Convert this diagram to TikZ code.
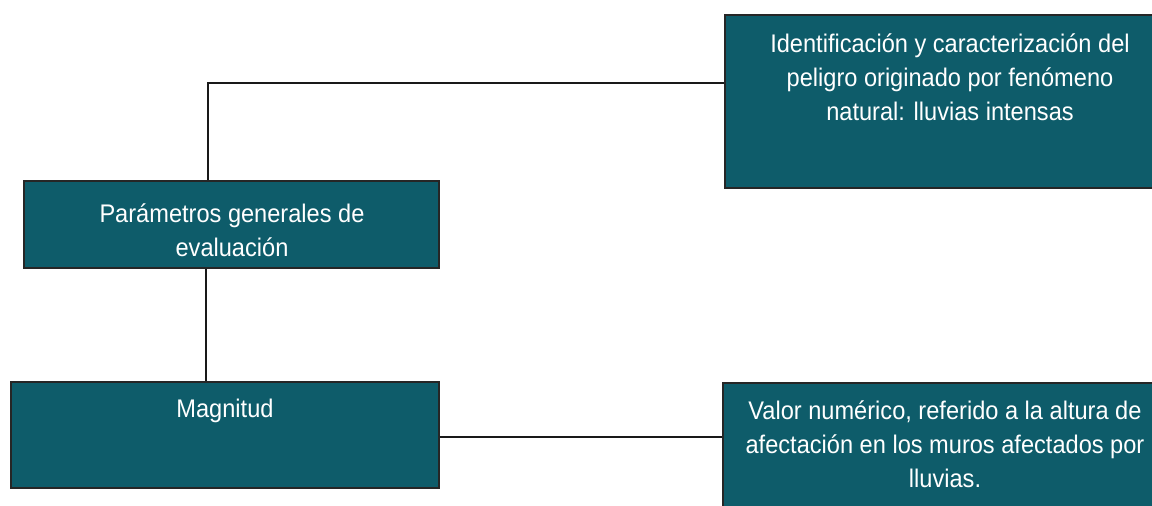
\documentclass[tikz,border=0pt]{standalone}
\usepackage{fontspec}
\setmainfont{Liberation Sans}
\newcommand{\tallt}[1]{\scalebox{1}[1.08]{#1}}
\begin{document}
\begin{tikzpicture}[x=1pt,y=-1pt,
  box/.style={draw=black!85, line width=1.3pt, fill=boxteal, inner sep=0pt, rectangle},
  txt/.style={text=white, anchor=base, inner sep=0pt, font=\fontsize{23.6}{34}\selectfont},
  conn/.style={draw=black!90, line width=1.3pt}]
\definecolor{boxteal}{RGB}{14,92,106}
\useasboundingbox (0,0) rectangle (1152,506);
\fill[white] (0,0) rectangle (1152,506);
% boxes
\node[box, minimum width=440pt, minimum height=173pt] (ident) at (945,101.5) {};
\node[box, minimum width=415pt, minimum height=87pt] (params) at (231.5,224.5) {};
\node[box, minimum width=428pt, minimum height=106pt] (magn) at (225,435) {};
\node[box, minimum width=440pt, minimum height=136pt] (valor) at (943,451) {};
% texts
\node[txt] (i1) at (950,52) {\tallt{Identificación y caracterización del}};
\node[txt] (i2) at (950,86) {\tallt{peligro originado por fenómeno}};
\node[txt] (i3) at (950,120) {\tallt{natural: lluvias intensas}};
\node[txt] (p1) at (232,222) {\tallt{Parámetros generales de}};
\node[txt] (p2) at (232,256) {\tallt{evaluación}};
\node[txt] (m1) at (225,417) {\tallt{Magnitud}};
\node[txt] (v1) at (945,419) {\tallt{Valor numérico, referido a la altura de}};
\node[txt] (v2) at (945,453) {\tallt{afectación en los muros afectados por}};
\node[txt] (v3) at (945,487) {\tallt{lluvias.}};
% connectors
\coordinate (c1) at (208,83);
\coordinate (c2) at (206,0);
\coordinate (c3) at (0,437);
\draw[conn] (c1 |- params.north) -- (c1) -- (c1 -| ident.west);
\draw[conn] (c2 |- params.south) -- (c2 |- magn.north);
\draw[conn] (c3 -| magn.east) -- (c3 -| valor.west);
\end{tikzpicture}
\end{document}
